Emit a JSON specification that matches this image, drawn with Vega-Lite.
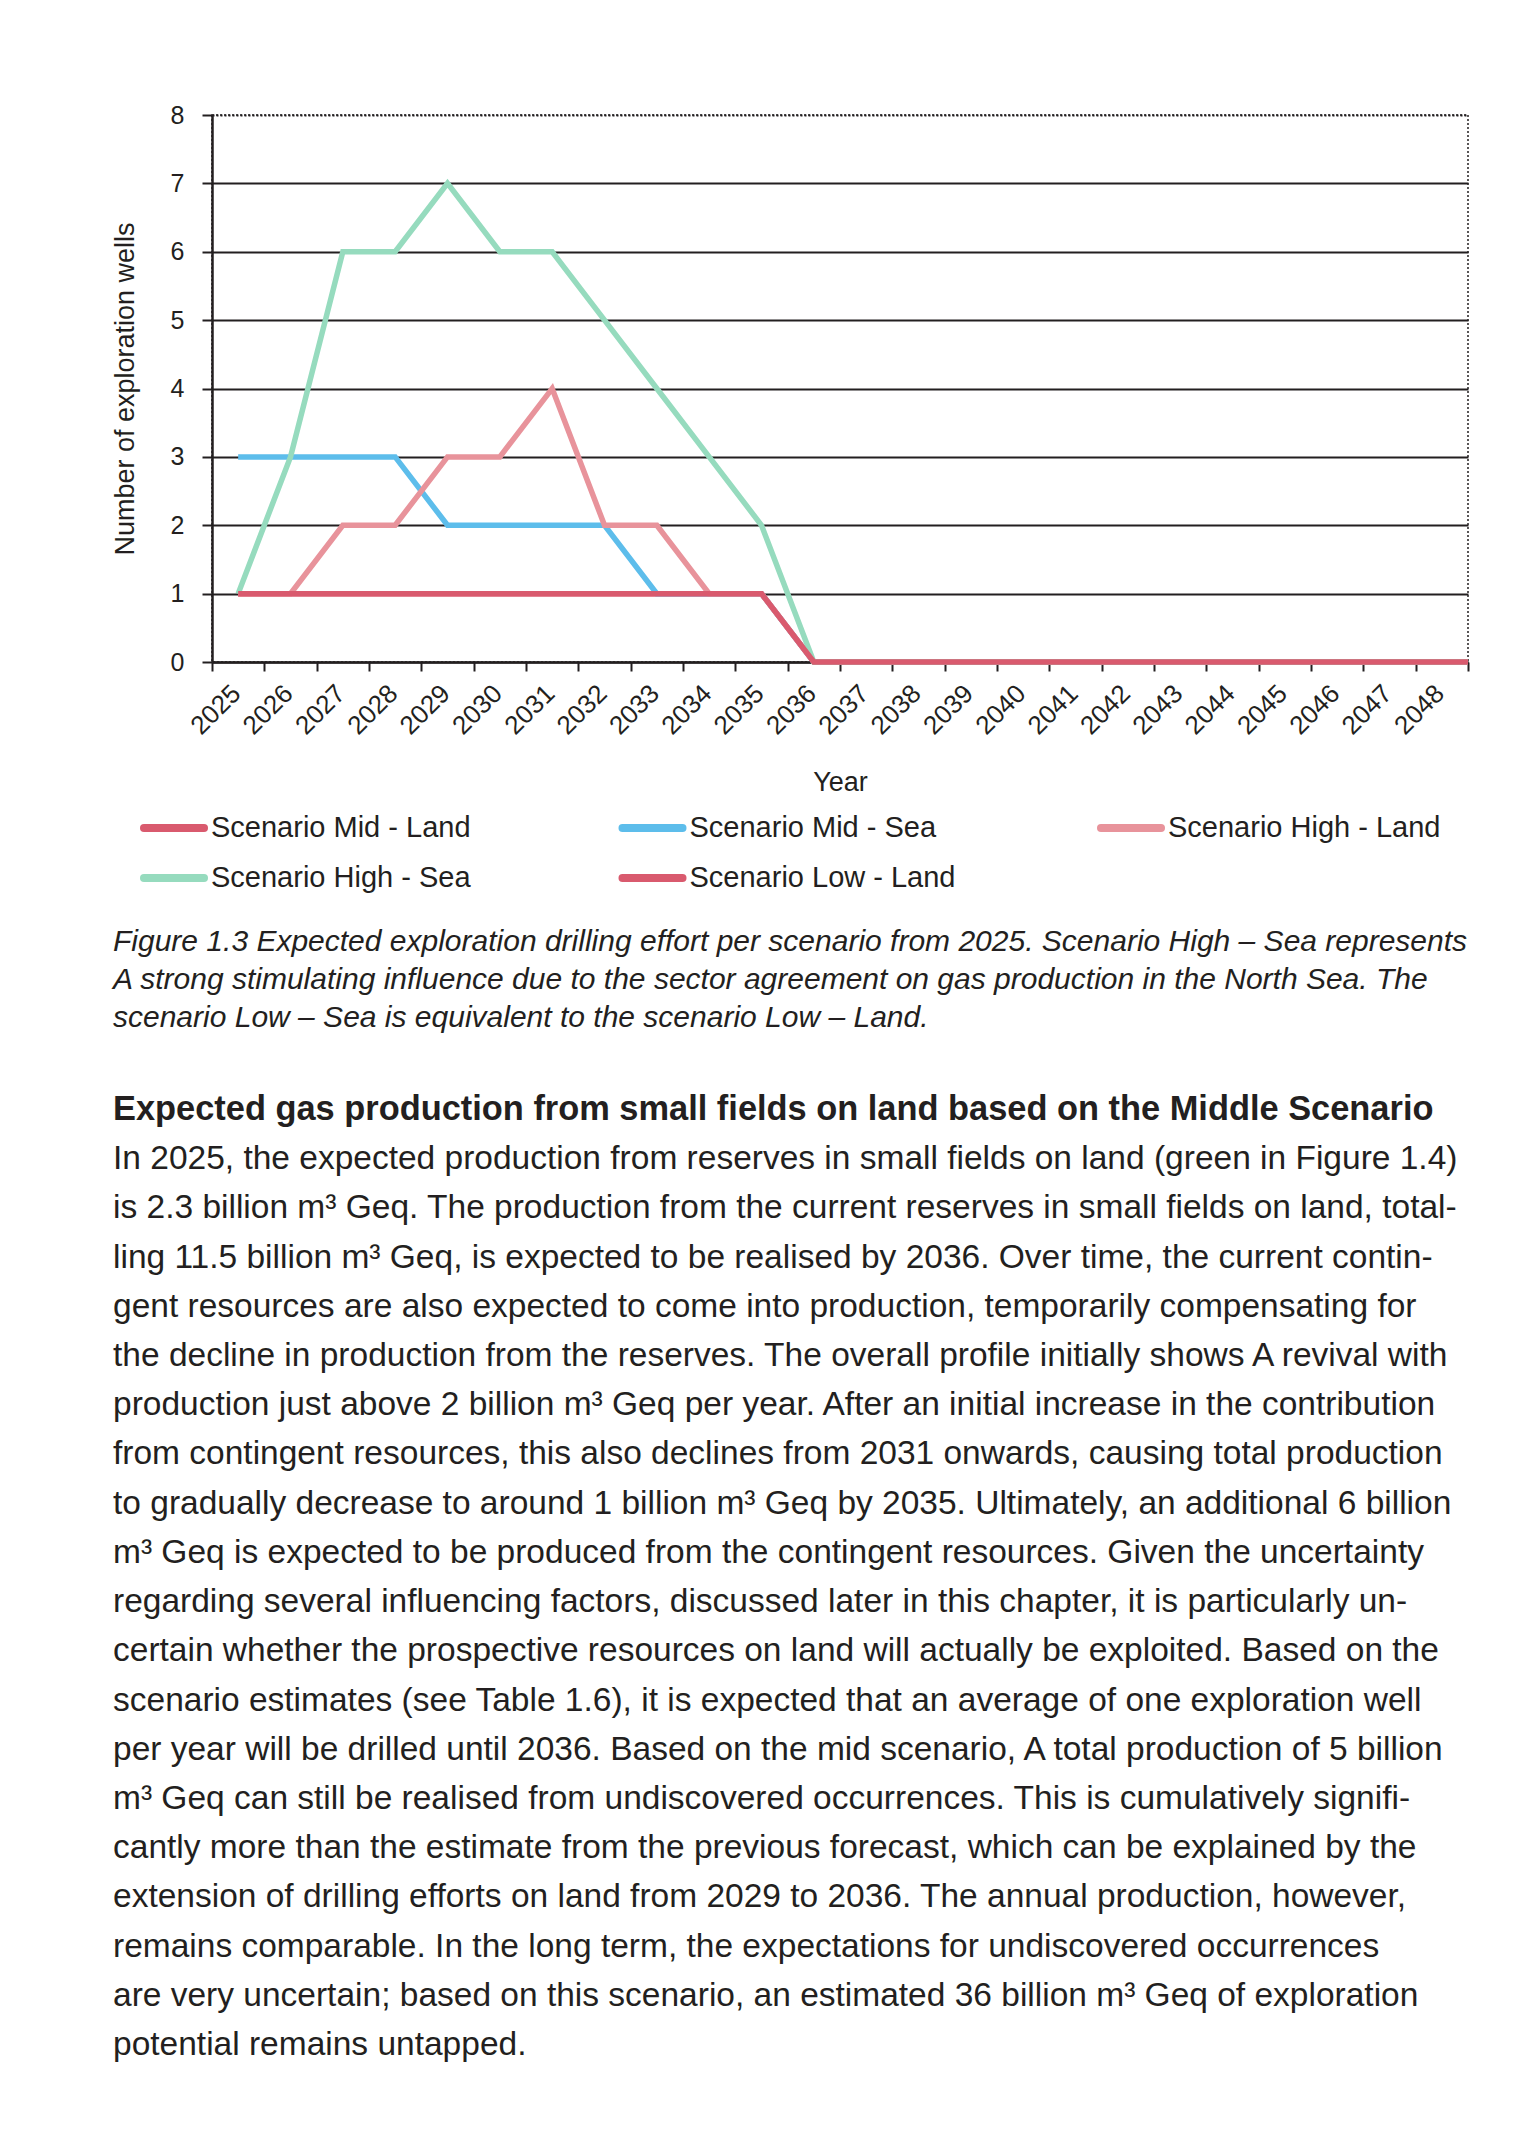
{
  "$schema": "https://vega.github.io/schema/vega-lite/v6.json",
  "background": "white",
  "padding": {"left": 110, "top": 102, "right": 0, "bottom": 0},
  "config": {
    "font": "Liberation Sans",
    "view": {"stroke": null},
    "text": {"color": "#231F20"}
  },
  "align": "none",
  "spacing": 31.5,
  "resolve": {"legend": {"color": "independent"}, "scale": {"color": "independent"}},
  "vconcat": [
    {
      "width": 1256,
      "height": 547,
      "view": {"stroke": "#231F20", "strokeDash": [2, 2], "strokeWidth": 1.5},
      "data": {
        "values": [
          {"year": 2025, "series": "Scenario Mid - Land", "wells": 1},
          {"year": 2026, "series": "Scenario Mid - Land", "wells": 1},
          {"year": 2027, "series": "Scenario Mid - Land", "wells": 1},
          {"year": 2028, "series": "Scenario Mid - Land", "wells": 1},
          {"year": 2029, "series": "Scenario Mid - Land", "wells": 1},
          {"year": 2030, "series": "Scenario Mid - Land", "wells": 1},
          {"year": 2031, "series": "Scenario Mid - Land", "wells": 1},
          {"year": 2032, "series": "Scenario Mid - Land", "wells": 1},
          {"year": 2033, "series": "Scenario Mid - Land", "wells": 1},
          {"year": 2034, "series": "Scenario Mid - Land", "wells": 1},
          {"year": 2035, "series": "Scenario Mid - Land", "wells": 1},
          {"year": 2036, "series": "Scenario Mid - Land", "wells": 0},
          {"year": 2037, "series": "Scenario Mid - Land", "wells": 0},
          {"year": 2038, "series": "Scenario Mid - Land", "wells": 0},
          {"year": 2039, "series": "Scenario Mid - Land", "wells": 0},
          {"year": 2040, "series": "Scenario Mid - Land", "wells": 0},
          {"year": 2041, "series": "Scenario Mid - Land", "wells": 0},
          {"year": 2042, "series": "Scenario Mid - Land", "wells": 0},
          {"year": 2043, "series": "Scenario Mid - Land", "wells": 0},
          {"year": 2044, "series": "Scenario Mid - Land", "wells": 0},
          {"year": 2045, "series": "Scenario Mid - Land", "wells": 0},
          {"year": 2046, "series": "Scenario Mid - Land", "wells": 0},
          {"year": 2047, "series": "Scenario Mid - Land", "wells": 0},
          {"year": 2048, "series": "Scenario Mid - Land", "wells": 0},
          {"year": 2048.5, "series": "Scenario Mid - Land", "wells": 0},

          {"year": 2025, "series": "Scenario Mid - Sea", "wells": 3},
          {"year": 2026, "series": "Scenario Mid - Sea", "wells": 3},
          {"year": 2027, "series": "Scenario Mid - Sea", "wells": 3},
          {"year": 2028, "series": "Scenario Mid - Sea", "wells": 3},
          {"year": 2029, "series": "Scenario Mid - Sea", "wells": 2},
          {"year": 2030, "series": "Scenario Mid - Sea", "wells": 2},
          {"year": 2031, "series": "Scenario Mid - Sea", "wells": 2},
          {"year": 2032, "series": "Scenario Mid - Sea", "wells": 2},
          {"year": 2033, "series": "Scenario Mid - Sea", "wells": 1},
          {"year": 2034, "series": "Scenario Mid - Sea", "wells": 1},
          {"year": 2035, "series": "Scenario Mid - Sea", "wells": 1},
          {"year": 2036, "series": "Scenario Mid - Sea", "wells": 0},
          {"year": 2037, "series": "Scenario Mid - Sea", "wells": 0},
          {"year": 2038, "series": "Scenario Mid - Sea", "wells": 0},
          {"year": 2039, "series": "Scenario Mid - Sea", "wells": 0},
          {"year": 2040, "series": "Scenario Mid - Sea", "wells": 0},
          {"year": 2041, "series": "Scenario Mid - Sea", "wells": 0},
          {"year": 2042, "series": "Scenario Mid - Sea", "wells": 0},
          {"year": 2043, "series": "Scenario Mid - Sea", "wells": 0},
          {"year": 2044, "series": "Scenario Mid - Sea", "wells": 0},
          {"year": 2045, "series": "Scenario Mid - Sea", "wells": 0},
          {"year": 2046, "series": "Scenario Mid - Sea", "wells": 0},
          {"year": 2047, "series": "Scenario Mid - Sea", "wells": 0},
          {"year": 2048, "series": "Scenario Mid - Sea", "wells": 0},
          {"year": 2048.5, "series": "Scenario Mid - Sea", "wells": 0},

          {"year": 2025, "series": "Scenario High - Land", "wells": 1},
          {"year": 2026, "series": "Scenario High - Land", "wells": 1},
          {"year": 2027, "series": "Scenario High - Land", "wells": 2},
          {"year": 2028, "series": "Scenario High - Land", "wells": 2},
          {"year": 2029, "series": "Scenario High - Land", "wells": 3},
          {"year": 2030, "series": "Scenario High - Land", "wells": 3},
          {"year": 2031, "series": "Scenario High - Land", "wells": 4},
          {"year": 2032, "series": "Scenario High - Land", "wells": 2},
          {"year": 2033, "series": "Scenario High - Land", "wells": 2},
          {"year": 2034, "series": "Scenario High - Land", "wells": 1},
          {"year": 2035, "series": "Scenario High - Land", "wells": 1},
          {"year": 2036, "series": "Scenario High - Land", "wells": 0},
          {"year": 2037, "series": "Scenario High - Land", "wells": 0},
          {"year": 2038, "series": "Scenario High - Land", "wells": 0},
          {"year": 2039, "series": "Scenario High - Land", "wells": 0},
          {"year": 2040, "series": "Scenario High - Land", "wells": 0},
          {"year": 2041, "series": "Scenario High - Land", "wells": 0},
          {"year": 2042, "series": "Scenario High - Land", "wells": 0},
          {"year": 2043, "series": "Scenario High - Land", "wells": 0},
          {"year": 2044, "series": "Scenario High - Land", "wells": 0},
          {"year": 2045, "series": "Scenario High - Land", "wells": 0},
          {"year": 2046, "series": "Scenario High - Land", "wells": 0},
          {"year": 2047, "series": "Scenario High - Land", "wells": 0},
          {"year": 2048, "series": "Scenario High - Land", "wells": 0},
          {"year": 2048.5, "series": "Scenario High - Land", "wells": 0},

          {"year": 2025, "series": "Scenario High - Sea", "wells": 1},
          {"year": 2026, "series": "Scenario High - Sea", "wells": 3},
          {"year": 2027, "series": "Scenario High - Sea", "wells": 6},
          {"year": 2028, "series": "Scenario High - Sea", "wells": 6},
          {"year": 2029, "series": "Scenario High - Sea", "wells": 7},
          {"year": 2030, "series": "Scenario High - Sea", "wells": 6},
          {"year": 2031, "series": "Scenario High - Sea", "wells": 6},
          {"year": 2032, "series": "Scenario High - Sea", "wells": 5},
          {"year": 2033, "series": "Scenario High - Sea", "wells": 4},
          {"year": 2034, "series": "Scenario High - Sea", "wells": 3},
          {"year": 2035, "series": "Scenario High - Sea", "wells": 2},
          {"year": 2036, "series": "Scenario High - Sea", "wells": 0},
          {"year": 2037, "series": "Scenario High - Sea", "wells": 0},
          {"year": 2038, "series": "Scenario High - Sea", "wells": 0},
          {"year": 2039, "series": "Scenario High - Sea", "wells": 0},
          {"year": 2040, "series": "Scenario High - Sea", "wells": 0},
          {"year": 2041, "series": "Scenario High - Sea", "wells": 0},
          {"year": 2042, "series": "Scenario High - Sea", "wells": 0},
          {"year": 2043, "series": "Scenario High - Sea", "wells": 0},
          {"year": 2044, "series": "Scenario High - Sea", "wells": 0},
          {"year": 2045, "series": "Scenario High - Sea", "wells": 0},
          {"year": 2046, "series": "Scenario High - Sea", "wells": 0},
          {"year": 2047, "series": "Scenario High - Sea", "wells": 0},
          {"year": 2048, "series": "Scenario High - Sea", "wells": 0},
          {"year": 2048.5, "series": "Scenario High - Sea", "wells": 0},

          {"year": 2025, "series": "Scenario Low - Land", "wells": 1},
          {"year": 2026, "series": "Scenario Low - Land", "wells": 1},
          {"year": 2027, "series": "Scenario Low - Land", "wells": 1},
          {"year": 2028, "series": "Scenario Low - Land", "wells": 1},
          {"year": 2029, "series": "Scenario Low - Land", "wells": 1},
          {"year": 2030, "series": "Scenario Low - Land", "wells": 1},
          {"year": 2031, "series": "Scenario Low - Land", "wells": 1},
          {"year": 2032, "series": "Scenario Low - Land", "wells": 1},
          {"year": 2033, "series": "Scenario Low - Land", "wells": 1},
          {"year": 2034, "series": "Scenario Low - Land", "wells": 1},
          {"year": 2035, "series": "Scenario Low - Land", "wells": 1},
          {"year": 2036, "series": "Scenario Low - Land", "wells": 0},
          {"year": 2037, "series": "Scenario Low - Land", "wells": 0},
          {"year": 2038, "series": "Scenario Low - Land", "wells": 0},
          {"year": 2039, "series": "Scenario Low - Land", "wells": 0},
          {"year": 2040, "series": "Scenario Low - Land", "wells": 0},
          {"year": 2041, "series": "Scenario Low - Land", "wells": 0},
          {"year": 2042, "series": "Scenario Low - Land", "wells": 0},
          {"year": 2043, "series": "Scenario Low - Land", "wells": 0},
          {"year": 2044, "series": "Scenario Low - Land", "wells": 0},
          {"year": 2045, "series": "Scenario Low - Land", "wells": 0},
          {"year": 2046, "series": "Scenario Low - Land", "wells": 0},
          {"year": 2047, "series": "Scenario Low - Land", "wells": 0},
          {"year": 2048, "series": "Scenario Low - Land", "wells": 0},
          {"year": 2048.5, "series": "Scenario Low - Land", "wells": 0}
        ]
      },
      "mark": {"type": "line", "strokeWidth": 5.5, "strokeJoin": "miter", "strokeCap": "butt"},
      "encoding": {
        "x": {
          "field": "year",
          "type": "quantitative",
          "scale": {"domain": [2024.5, 2048.5], "nice": false, "zero": false},
          "axis": {
            "title": "Year",
            "titleFontSize": 27,
            "titleFontWeight": "normal",
            "titleColor": "#231F20",
            "titlePadding": 30,
            "values": [2024.5, 2025.5, 2026.5, 2027.5, 2028.5, 2029.5, 2030.5, 2031.5, 2032.5, 2033.5, 2034.5, 2035.5, 2036.5, 2037.5, 2038.5, 2039.5, 2040.5, 2041.5, 2042.5, 2043.5, 2044.5, 2045.5, 2046.5, 2047.5, 2048.5],
            "labelExpr": "datum.value < 2048 ? format(datum.value + 0.5, 'd') : ''",
            "labelOffset": 24,
            "labelAngle": -45,
            "labelAlign": "right",
            "labelBaseline": "middle",
            "labelFontSize": 26,
            "labelColor": "#231F20",
            "labelPadding": 18,
            "labelFlush": false,
            "labelOverlap": false,
            "labelBound": false,
            "grid": false,
            "tickSize": 9,
            "tickWidth": 2,
            "tickColor": "#231F20",
            "domainColor": "#231F20",
            "domainWidth": 2.5
          }
        },
        "y": {
          "field": "wells",
          "type": "quantitative",
          "scale": {"domain": [0, 8], "nice": false},
          "axis": {
            "title": "Number of exploration wells",
            "titleFontSize": 27,
            "titleFontWeight": "normal",
            "titleColor": "#231F20",
            "titlePadding": 31,
            "values": [0, 1, 2, 3, 4, 5, 6, 7, 8],
            "labelFontSize": 25,
            "labelColor": "#231F20",
            "labelPadding": 18,
            "tickSize": 10,
            "tickWidth": 2,
            "tickColor": "#231F20",
            "domainColor": "#231F20",
            "domainWidth": 2.5,
            "grid": true,
            "gridColor": "#231F20",
            "gridWidth": 2,
            "gridDash": {"condition": {"test": "datum.value === 8", "value": [2, 2]}, "value": []}
          }
        },
        "color": {
          "field": "series",
          "type": "nominal",
          "sort": ["Scenario Mid - Land", "Scenario Mid - Sea", "Scenario High - Land", "Scenario High - Sea", "Scenario Low - Land"],
          "scale": {
            "domain": ["Scenario Mid - Land", "Scenario Mid - Sea", "Scenario High - Land", "Scenario High - Sea", "Scenario Low - Land"],
            "range": ["#D95A6E", "#5DBDEB", "#E8939B", "#96DBBE", "#D95A6E"]
          },
          "legend": {
            "title": null,
            "orient": "none",
            "legendX": -72,
            "legendY": 679,
            "direction": "horizontal",
            "columns": 3,
            "gridAlign": "all",
            "columnPadding": 122.5,
            "rowPadding": 0,
            "symbolType": "stroke",
            "symbolSize": 3600,
            "symbolStrokeWidth": 8,
            "labelFontSize": 29,
            "labelColor": "#231F20",
            "labelOffset": 3,
            "labelLimit": 500,
            "encode": {"symbols": {"update": {"strokeCap": {"value": "round"}}}}
          }
        },
        "order": {"field": "year", "type": "quantitative"}
      }
    },
    {
      "vconcat": [
        {
          "width": 1356,
          "height": 76.8,
          "data": {
            "values": [
              {"line": 1, "text": "Figure 1.3 Expected exploration drilling effort per scenario from 2025. Scenario High – Sea represents"},
              {"line": 2, "text": "A strong stimulating influence due to the sector agreement on gas production in the North Sea. The"},
              {"line": 3, "text": "scenario Low – Sea is equivalent to the scenario Low – Land."}
            ]
          },
          "mark": {"type": "text", "align": "left", "baseline": "middle", "fontSize": 30, "fontStyle": "italic", "color": "#231F20"},
          "encoding": {
            "x": {"value": -99},
            "y": {"field": "line", "type": "ordinal", "axis": null, "scale": {"type": "point", "padding": 0}},
            "text": {"field": "text"}
          }
        },
        {
          "width": 1356,
          "height": 935,
          "data": {
            "values": [
              {"line": 0, "kind": "heading", "text": "Expected gas production from small fields on land based on the Middle Scenario"},
              {"line": 1, "kind": "body", "text": "In 2025, the expected production from reserves in small fields on land (green in Figure 1.4)"},
              {"line": 2, "kind": "body", "text": "is 2.3 billion m³ Geq. The production from the current reserves in small fields on land, total-"},
              {"line": 3, "kind": "body", "text": "ling 11.5 billion m³ Geq, is expected to be realised by 2036. Over time, the current contin-"},
              {"line": 4, "kind": "body", "text": "gent resources are also expected to come into production, temporarily compensating for"},
              {"line": 5, "kind": "body", "text": "the decline in production from the reserves. The overall profile initially shows A revival with"},
              {"line": 6, "kind": "body", "text": "production just above 2 billion m³ Geq per year. After an initial increase in the contribution"},
              {"line": 7, "kind": "body", "text": "from contingent resources, this also declines from 2031 onwards, causing total production"},
              {"line": 8, "kind": "body", "text": "to gradually decrease to around 1 billion m³ Geq by 2035. Ultimately, an additional 6 billion"},
              {"line": 9, "kind": "body", "text": "m³ Geq is expected to be produced from the contingent resources. Given the uncertainty"},
              {"line": 10, "kind": "body", "text": "regarding several influencing factors, discussed later in this chapter, it is particularly un-"},
              {"line": 11, "kind": "body", "text": "certain whether the prospective resources on land will actually be exploited. Based on the"},
              {"line": 12, "kind": "body", "text": "scenario estimates (see Table 1.6), it is expected that an average of one exploration well"},
              {"line": 13, "kind": "body", "text": "per year will be drilled until 2036. Based on the mid scenario, A total production of 5 billion"},
              {"line": 14, "kind": "body", "text": "m³ Geq can still be realised from undiscovered occurrences. This is cumulatively signifi-"},
              {"line": 15, "kind": "body", "text": "cantly more than the estimate from the previous forecast, which can be explained by the"},
              {"line": 16, "kind": "body", "text": "extension of drilling efforts on land from 2029 to 2036. The annual production, however,"},
              {"line": 17, "kind": "body", "text": "remains comparable. In the long term, the expectations for undiscovered occurrences"},
              {"line": 18, "kind": "body", "text": "are very uncertain; based on this scenario, an estimated 36 billion m³ Geq of exploration"},
              {"line": 19, "kind": "body", "text": "potential remains untapped."}
            ]
          },
          "encoding": {
            "x": {"value": -99},
            "y": {"field": "line", "type": "ordinal", "axis": null, "scale": {"type": "point", "padding": 0}},
            "text": {"field": "text"}
          },
          "layer": [
            {
              "transform": [{"filter": "datum.kind === 'heading'"}],
              "mark": {"type": "text", "align": "left", "baseline": "middle", "fontSize": 34.4, "fontWeight": "bold", "color": "#231F20"}
            },
            {
              "transform": [{"filter": "datum.kind === 'body'"}],
              "mark": {"type": "text", "align": "left", "baseline": "middle", "fontSize": 33.5, "color": "#231F20"}
            }
          ]
        }
      ],
      "spacing": 58.5
    }
  ]
}
